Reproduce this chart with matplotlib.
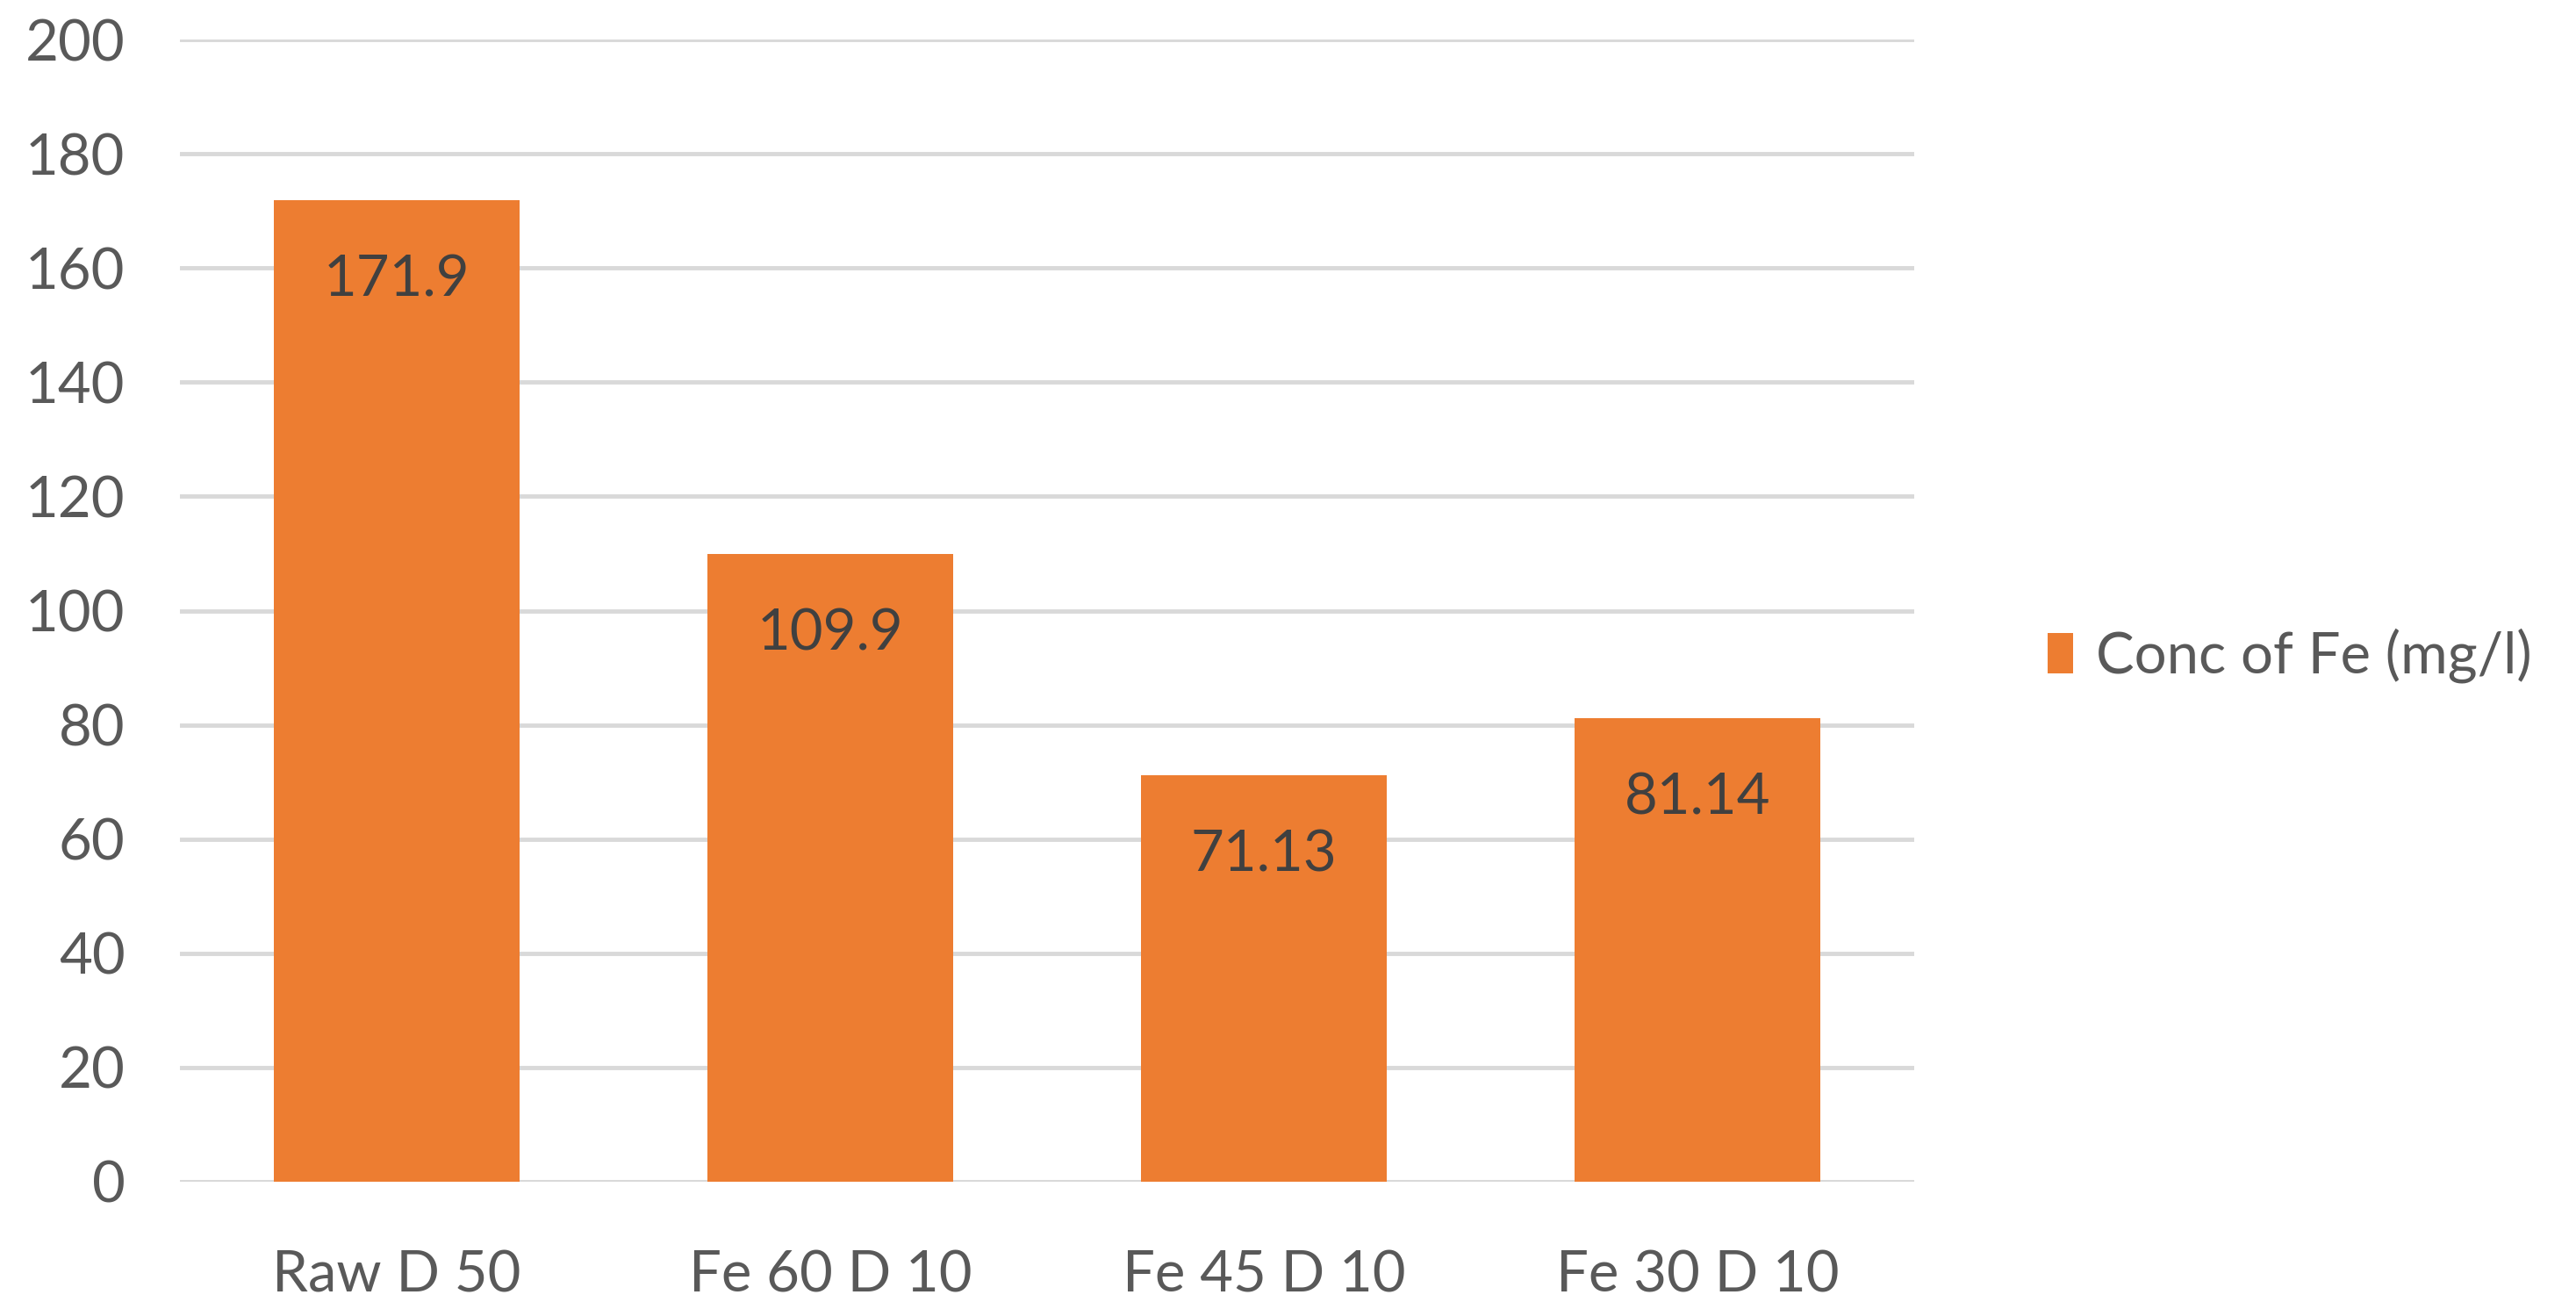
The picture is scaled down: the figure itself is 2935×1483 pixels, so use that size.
import matplotlib.pyplot as plt

categories = ['Raw D 50', 'Fe 60 D 10', 'Fe 45 D 10', 'Fe 30 D 10']
conc_fe = [171.9, 109.9, 71.13, 81.14]
value_labels = ['171.9', '109.9', '71.13', '81.14']
y_ticks = [0, 20, 40, 60, 80, 100, 120, 140, 160, 180, 200]

plt.rcParams['font.family'] = ['Lato', 'DejaVu Sans']

fig = plt.figure(figsize=(29.35, 14.83), dpi=100)
ax = fig.add_axes([205 / 2935, 1 - 1346 / 1483, (2181 - 205) / 2935, (1346 - 45) / 1483])

x = list(range(len(categories)))
bars = ax.bar(x, conc_fe, width=0.565, color='#ED7D31', label='Conc of Fe (mg/l)', zorder=3)

# value labels sit inside the top of each bar
for bar, txt in zip(bars, value_labels):
    ax.text(bar.get_x() + bar.get_width() / 2, bar.get_height() - 14, txt,
            ha='center', va='center', fontsize=47, color='#404040', zorder=4)

ax.set_xlim(-0.5, len(categories) - 0.5)
ax.set_ylim(0, 200)
ax.set_yticks(y_ticks)
ax.set_xticks(x)
ax.set_xticklabels(categories)
ax.tick_params(axis='both', length=0, labelsize=47, labelcolor='#595959')
ax.tick_params(axis='y', pad=45)
ax.tick_params(axis='x', pad=56)
ax.grid(axis='y', color='#D9D9D9', linewidth=3.5, zorder=0)
for s in ax.spines.values():
    s.set_visible(False)
ax.axhline(0, color='#D9D9D9', linewidth=3.5, zorder=1)

fig.legend(loc='center left', bbox_to_anchor=(2300 / 2935, 1 - 747 / 1483), frameon=False,
           fontsize=47, labelcolor='#595959', handlelength=0.45, handleheight=0.7,
           handletextpad=0.4, borderpad=0)

fig.savefig('out.png', dpi=100)
